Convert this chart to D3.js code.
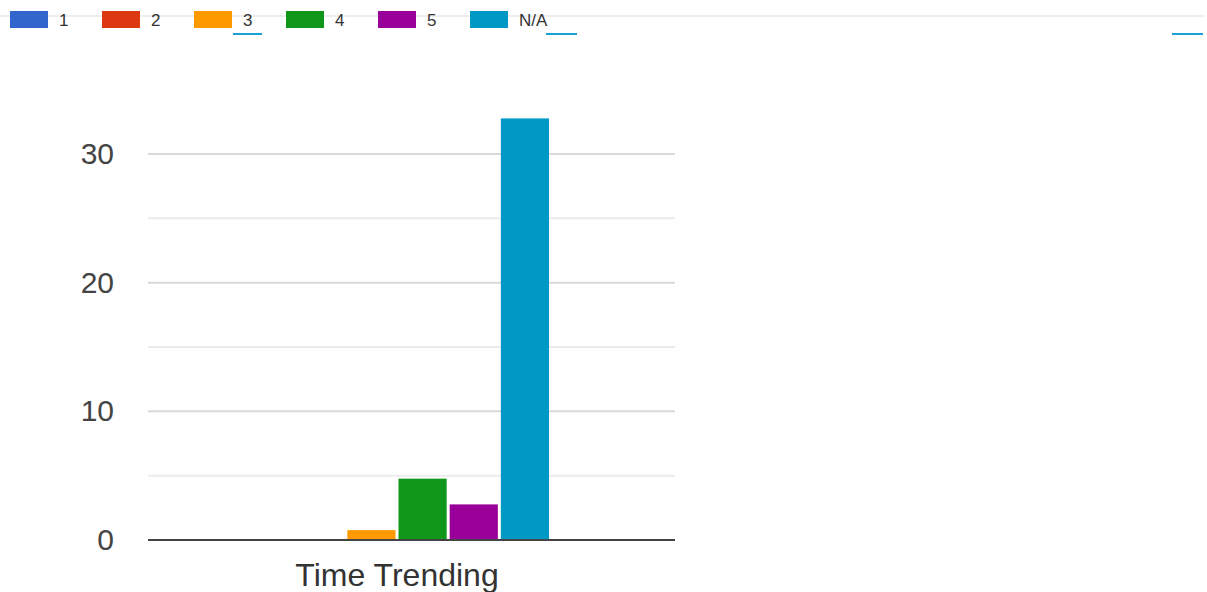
<!DOCTYPE html>
<html>
<head>
<meta charset="utf-8">
<script src="https://cdn.jsdelivr.net/npm/d3@7"></script>
<style>
  html, body { margin: 0; padding: 0; background: #fff; }
  svg { display: block; font-family: "Liberation Sans", Arial, sans-serif; }
</style>
</head>
<body>
<svg id="chart" width="1207" height="592"></svg>
<script>
// ---- data ----
const categories = ["Time Trending"];
const seriesNames = ["1", "2", "3", "4", "5", "N/A"];
const seriesColors = ["#3366cc", "#dc3912", "#ff9900", "#109618", "#990099", "#0099c6"];
const values = [0, 0, 1, 5, 3, 33];   // one value per series for "Time Trending"
const yTicks = [0, 10, 20, 30];
const yMinorTicks = [5, 15, 25];

// ---- layout ----
const svg = d3.select("#chart");
const plot = { left: 148, right: 675, top: 154, bottom: 540 };

const y = d3.scaleLinear().domain([0, 30]).range([plot.bottom, plot.top]);

const x0 = d3.scaleBand().domain(categories).range([plot.left, 646])
  .paddingInner(0).paddingOuter(0.311);
const x1 = d3.scaleBand().domain(seriesNames).range([0, x0.bandwidth()]).padding(0);

// ---- legend ----
svg.append("line")
  .attr("x1", 0).attr("x2", 1205).attr("y1", 16).attr("y2", 16)
  .attr("stroke", "#eeeeee").attr("stroke-width", 2);

const legend = svg.append("g");
const legendItems = legend.selectAll("g").data(seriesNames).join("g")
  .attr("transform", (d, i) => `translate(${10 + i * 92},11)`);
legendItems.append("rect")
  .attr("width", 38).attr("height", 17)
  .attr("fill", (d, i) => seriesColors[i]);
legendItems.append("text")
  .attr("x", 49).attr("y", 15)
  .attr("font-size", 17).attr("fill", "#333")
  .text(d => d);

// blue underline marks
[[233, 262], [546, 577], [1172, 1203]].forEach(([a, b]) => {
  svg.append("line").attr("x1", a).attr("x2", b).attr("y1", 34).attr("y2", 34)
    .attr("stroke", "#1a9fd6").attr("stroke-width", 2);
});

// ---- gridlines ----
svg.append("g").selectAll("line").data(yMinorTicks).join("line")
  .attr("x1", plot.left).attr("x2", plot.right)
  .attr("y1", d => y(d)).attr("y2", d => y(d))
  .attr("stroke", "#ebebeb").attr("stroke-width", 2);
svg.append("g").selectAll("line").data(yTicks.filter(t => t !== 0)).join("line")
  .attr("x1", plot.left).attr("x2", plot.right)
  .attr("y1", d => y(d)).attr("y2", d => y(d))
  .attr("stroke", "#d9d9d9").attr("stroke-width", 2);

// ---- y tick labels via axis ----
const yAxis = d3.axisLeft(y).tickValues(yTicks).tickSize(0).tickPadding(0);
const yg = svg.append("g").attr("transform", `translate(${plot.left - 34},0)`).call(yAxis);
yg.select(".domain").remove();
yg.selectAll("text")
  .attr("font-size", 30).attr("fill", "#444")
  .attr("font-family", "Liberation Sans, Arial, sans-serif");

// ---- bars ----
const groups = svg.append("g").selectAll("g").data(categories).join("g")
  .attr("transform", d => `translate(${x0(d)},0)`);
groups.selectAll("rect")
  .data(() => seriesNames.map((s, i) => ({ s, v: values[i], c: seriesColors[i] })))
  .join("rect")
  .attr("x", d => x1(d.s) + 1.5)
  .attr("width", x1.bandwidth() - 3)
  .attr("y", d => y(d.v) + 3)
  .attr("height", d => Math.max(0, y(0) - y(d.v) - 4))
  .attr("fill", d => d.c);

// ---- baseline ----
svg.append("line")
  .attr("x1", plot.left).attr("x2", plot.right)
  .attr("y1", y(0)).attr("y2", y(0))
  .attr("stroke", "#444").attr("stroke-width", 2);

// ---- x category label via axis ----
const xAxis = d3.axisBottom(x0).tickSize(0).tickPadding(0);
const xg = svg.append("g").attr("transform", `translate(0,${y(0) + 23})`).call(xAxis);
xg.select(".domain").remove();
xg.selectAll("text")
  .attr("font-size", 32).attr("fill", "#333")
  .attr("font-family", "Liberation Sans, Arial, sans-serif")
  .attr("dy", "0.71em");
</script>
</body>
</html>
